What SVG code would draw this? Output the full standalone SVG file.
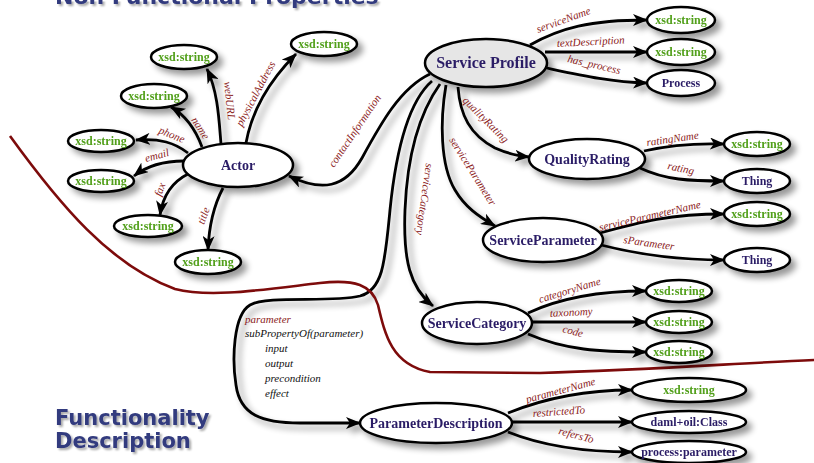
<svg xmlns="http://www.w3.org/2000/svg" width="814" height="463" viewBox="0 0 814 463">
  <defs>
    <filter id="sh" filterUnits="userSpaceOnUse" x="0" y="0" width="814" height="463">
      <feGaussianBlur in="SourceAlpha" stdDeviation="3"/>
      <feOffset dx="5" dy="5"/>
      <feComponentTransfer><feFuncA type="linear" slope="0.4"/></feComponentTransfer>
      <feMerge><feMergeNode/><feMergeNode in="SourceGraphic"/></feMerge>
    </filter>
    <filter id="tsh" filterUnits="userSpaceOnUse" x="0" y="0" width="814" height="463">
      <feGaussianBlur in="SourceAlpha" stdDeviation="1"/>
      <feOffset dx="1.5" dy="1.5"/>
      <feComponentTransfer><feFuncA type="linear" slope="0.35"/></feComponentTransfer>
      <feMerge><feMergeNode/><feMergeNode in="SourceGraphic"/></feMerge>
    </filter>
    <marker id="ah" markerUnits="userSpaceOnUse" viewBox="0 0 15 12" refX="14" refY="6" markerWidth="15" markerHeight="12" orient="auto">
      <path d="M0,0 L15,6 L0,12 L4,6 z" fill="#000"/>
    </marker>
    <style>
      .edge { fill: none; stroke: #000; stroke-width: 2.8; marker-end: url(#ah); }
      .lbl { font-family: "Liberation Serif", serif; font-style: italic; font-size: 11px; fill: #8b1a1a; }
      .nd ellipse { fill: #fff; stroke: #000; stroke-width: 2.5; }
      .nd text { font-family: "Liberation Serif", serif; font-weight: bold; font-size: 14px; fill: #2b1d66; text-anchor: middle; }
      .nd text.str { fill: #52a01c; font-size: 12px; }
      .nd text.sm { font-size: 12px; }
      .title { font-family: "DejaVu Sans", sans-serif; font-weight: bold; fill: #323a7e; }
      .note { font-family: "Liberation Serif", serif; font-style: italic; font-size: 11px; fill: #111; }
    </style>
  </defs>

  <rect width="814" height="463" fill="#fff"/>

  <!-- section headings -->
  <g filter="url(#tsh)">
    <text class="title" x="55" y="4" font-size="22">Non Functional Properties</text>
    <text class="title" x="55" y="425" font-size="21">Functionality</text>
    <text class="title" x="55" y="448" font-size="21">Description</text>
  </g>

  <!-- connectors -->
  <g id="connectors">
    <g filter="url(#sh)">
      <!-- Actor properties -->
      <path class="edge" d="M221,144 C219,120 218,92 207,69"/>
      <path class="edge" d="M246,143 C252,110 270,80 296,54"/>
      <path class="edge" d="M202,147 C195,128 185,115 171,107"/>
      <path class="edge" d="M188,153 C175,143 160,138 136,140"/>
      <path class="edge" d="M184,161 C165,161 148,165 134,176"/>
      <path class="edge" d="M188,174 C172,182 163,195 160,215"/>
      <path class="edge" d="M223,188 C214,205 209,225 208,250"/>
      <!-- Service Profile properties -->
      <path class="edge" d="M430,74 C400,88 380,125 362,158 C345,188 322,192 289,176"/>
      <path class="edge" d="M432,81 C408,102 396,150 390,210 C385,262 383,290 360,296 C330,303 268,295 250,305 C233,315 232,360 236,385 C240,415 262,423 300,423 L360,423"/>
      <path class="edge" d="M440,84 C418,115 407,160 405,210 C403,260 410,288 433,306"/>
      <path class="edge" d="M446,85 C440,120 440,165 455,190 C465,207 478,216 495,226"/>
      <path class="edge" d="M458,87 C460,115 470,135 495,148 C508,154 518,156 529,157"/>
      <path class="edge" d="M530,45 C560,28 590,20 647,20"/>
      <path class="edge" d="M545,52 L647,52"/>
      <path class="edge" d="M542,67 C580,75 610,82 647,83"/>
      <!-- QualityRating -->
      <path class="edge" d="M644,151 C670,145 695,143 724,144"/>
      <path class="edge" d="M640,168 C665,180 690,181 724,181"/>
      <!-- ServiceParameter -->
      <path class="edge" d="M600,233 C640,222 670,214 724,214"/>
      <path class="edge" d="M601,245 C640,255 680,260 724,260"/>
      <!-- ServiceCategory -->
      <path class="edge" d="M528,313 C560,298 600,291 646,291"/>
      <path class="edge" d="M532,322 L646,322"/>
      <path class="edge" d="M528,334 C565,350 600,352 646,352"/>
      <!-- ParameterDescription -->
      <path class="edge" d="M508,413 C545,398 585,390 632,390"/>
      <path class="edge" d="M512,422 L632,422"/>
      <path class="edge" d="M508,432 C545,447 585,452 632,452"/>
    </g>

    <!-- property labels -->
    <g>
      <text class="lbl" transform="translate(224,82) rotate(84)">webURL</text>
      <text class="lbl" transform="translate(242,127) rotate(-62)">physicalAddress</text>
      <text class="lbl" transform="translate(191,120) rotate(57)">name</text>
      <text class="lbl" transform="translate(158,133) rotate(22)">phone</text>
      <text class="lbl" transform="translate(146,162) rotate(-15)">email</text>
      <text class="lbl" transform="translate(161,197) rotate(-70)">fax</text>
      <text class="lbl" transform="translate(204,225) rotate(-70)">title</text>
      <text class="lbl" transform="translate(334,168) rotate(-56)">contactInformation</text>
      <text class="lbl" transform="translate(426,163) rotate(98)">serviceCategory</text>
      <text class="lbl" transform="translate(449,140) rotate(58)">serviceParameter</text>
      <text class="lbl" transform="translate(462,101) rotate(45)">qualityRating</text>
      <text class="lbl" transform="translate(538,33) rotate(-20)">serviceName</text>
      <text class="lbl" transform="translate(557,47) rotate(-3)">textDescription</text>
      <text class="lbl" transform="translate(567,62) rotate(13)">has_process</text>
      <text class="lbl" transform="translate(647,146) rotate(-8)">ratingName</text>
      <text class="lbl" transform="translate(667,169) rotate(12)">rating</text>
      <text class="lbl" transform="translate(600,231) rotate(-13)">serviceParameterName</text>
      <text class="lbl" transform="translate(623,243) rotate(8)">sParameter</text>
      <text class="lbl" transform="translate(540,303) rotate(-17)">categoryName</text>
      <text class="lbl" transform="translate(550,317) rotate(-3)">taxonomy</text>
      <text class="lbl" transform="translate(562,332) rotate(15)">code</text>
      <text class="lbl" transform="translate(527,403) rotate(-15)">parameterName</text>
      <text class="lbl" transform="translate(533,417) rotate(-4)">restrictedTo</text>
      <text class="lbl" transform="translate(558,434) rotate(15)">refersTo</text>
    </g>
  </g>

  <!-- boundary between the two areas -->
  <path d="M10,136 C60,205 110,265 175,289 C210,298 260,290 320,283 C355,279 372,285 378,305 C385,335 392,365 430,372 L540,373 C650,370 740,363 814,360" fill="none" stroke="#7d0b0b" stroke-width="2.6"/>

  <!-- parameter sub-properties -->
  <g>
    <text class="lbl" x="245" y="323">parameter</text>
    <text class="note" x="245" y="337">subPropertyOf(parameter)</text>
    <text class="note" x="265" y="352">input</text>
    <text class="note" x="265" y="367">output</text>
    <text class="note" x="265" y="382">precondition</text>
    <text class="note" x="265" y="397">effect</text>
  </g>

  <!-- nodes -->
  <g id="nodes" filter="url(#sh)">
    <g id="service-profile" class="nd"><ellipse cx="486" cy="63" rx="61" ry="24" style="fill:#e6e6e6"/><text x="486" y="68" style="font-size:16px">Service Profile</text></g>
    <g id="sp-name" class="nd"><ellipse cx="681" cy="20" rx="34" ry="13"/><text class="str" x="681" y="24">xsd:string</text></g>
    <g id="sp-desc" class="nd"><ellipse cx="681" cy="52" rx="34" ry="13"/><text class="str" x="681" y="56">xsd:string</text></g>
    <g id="process" class="nd"><ellipse cx="681" cy="83" rx="34" ry="13"/><text class="sm" x="681" y="87">Process</text></g>

    <g id="actor" class="nd"><ellipse cx="238" cy="165" rx="55" ry="22"/><text x="238" y="170">Actor</text></g>
    <g id="actor-url" class="nd"><ellipse cx="184" cy="57" rx="33" ry="12"/><text class="str" x="184" y="61">xsd:string</text></g>
    <g id="actor-address" class="nd"><ellipse cx="324" cy="44" rx="33" ry="12"/><text class="str" x="324" y="48">xsd:string</text></g>
    <g id="actor-name" class="nd"><ellipse cx="154" cy="96" rx="33" ry="12"/><text class="str" x="154" y="100">xsd:string</text></g>
    <g id="actor-phone" class="nd"><ellipse cx="101" cy="141" rx="33" ry="11"/><text class="str" x="101" y="145">xsd:string</text></g>
    <g id="actor-email" class="nd"><ellipse cx="101" cy="181" rx="33" ry="11"/><text class="str" x="101" y="185">xsd:string</text></g>
    <g id="actor-fax" class="nd"><ellipse cx="148" cy="226" rx="34" ry="11"/><text class="str" x="148" y="230">xsd:string</text></g>
    <g id="actor-title" class="nd"><ellipse cx="208" cy="262" rx="33" ry="12"/><text class="str" x="208" y="266">xsd:string</text></g>

    <g id="quality-rating" class="nd"><ellipse cx="587" cy="159" rx="58" ry="20"/><text x="587" y="164">QualityRating</text></g>
    <g id="qr-name" class="nd"><ellipse cx="757" cy="144" rx="33" ry="12"/><text class="str" x="757" y="148">xsd:string</text></g>
    <g id="qr-rating" class="nd"><ellipse cx="757" cy="181" rx="33" ry="12"/><text class="sm" x="757" y="185">Thing</text></g>

    <g id="service-parameter" class="nd"><ellipse cx="543" cy="240" rx="60" ry="22"/><text x="543" y="245">ServiceParameter</text></g>
    <g id="sparam-name" class="nd"><ellipse cx="757" cy="214" rx="33" ry="12"/><text class="str" x="757" y="218">xsd:string</text></g>
    <g id="sparam-value" class="nd"><ellipse cx="757" cy="260" rx="33" ry="12"/><text class="sm" x="757" y="264">Thing</text></g>

    <g id="service-category" class="nd"><ellipse cx="477" cy="323" rx="55" ry="21"/><text x="477" y="328">ServiceCategory</text></g>
    <g id="cat-name" class="nd"><ellipse cx="679" cy="291" rx="33" ry="11"/><text class="str" x="679" y="295">xsd:string</text></g>
    <g id="cat-taxonomy" class="nd"><ellipse cx="679" cy="322" rx="33" ry="11"/><text class="str" x="679" y="326">xsd:string</text></g>
    <g id="cat-code" class="nd"><ellipse cx="679" cy="352" rx="33" ry="11"/><text class="str" x="679" y="356">xsd:string</text></g>

    <g id="parameter-description" class="nd"><ellipse cx="436" cy="423" rx="76" ry="20"/><text x="436" y="428">ParameterDescription</text></g>
    <g id="pd-name" class="nd"><ellipse cx="689" cy="390" rx="57" ry="12"/><text class="str" x="689" y="394">xsd:string</text></g>
    <g id="pd-restricted" class="nd"><ellipse cx="689" cy="422" rx="57" ry="11"/><text class="sm" x="689" y="426">daml+oil:Class</text></g>
    <g id="pd-refers" class="nd"><ellipse cx="689" cy="452" rx="57" ry="11"/><text class="sm" x="689" y="456">process:parameter</text></g>
  </g>
</svg>
